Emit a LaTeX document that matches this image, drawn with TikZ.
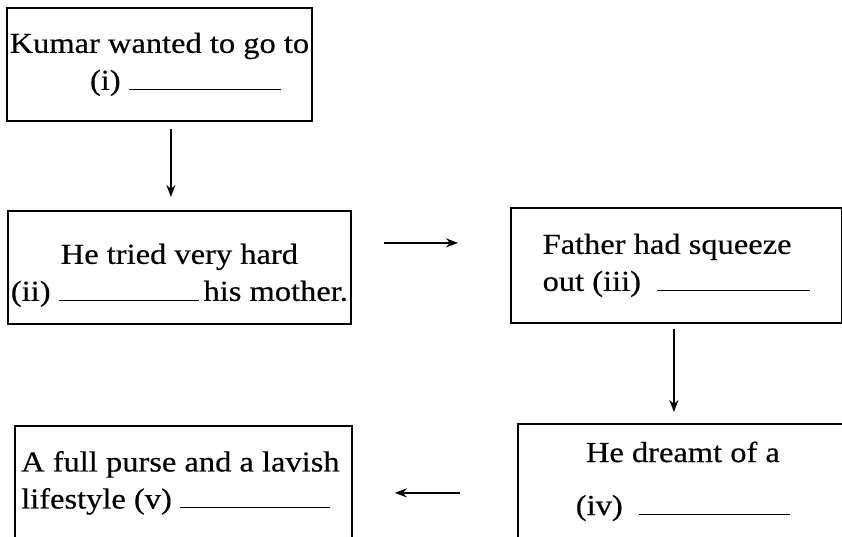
\documentclass[tikz,border=0pt]{standalone}
\usepackage{fontspec}
\setmainfont[FakeStretch=1.12, FakeBold=0.4]{Liberation Serif}
\usepackage{tikz}
\usetikzlibrary{arrows, arrows.meta}
\newcommand{\blank}[1]{\rule{#1}{1.3pt}}
\tikzset{
  FlowBox/.style = {draw = black, line width = 1.8pt, rectangle, anchor = north west, inner sep = 0pt,
                    font = \fontsize{29}{37}\selectfont},
  MidBox/.style = {FlowBox, align = center},
  LeftBox/.style = {FlowBox, align = left},
  Link/.style = {-{Stealth[length=12pt, width=9pt]}, line width = 1.7pt}
}
\begin{document}
\begin{tikzpicture}[x=1pt, y=-1pt]
    \useasboundingbox (0,0) rectangle (842,536);
    \node [MidBox, minimum width = 305pt, minimum height = 113pt] (kumar) at (6,7)
        {Kumar wanted to go to\\ \hspace*{52pt}(i) \blank{152pt}};
    \node [MidBox, minimum width = 343pt, minimum height = 113pt] (tried) at (7,210)
        {\rule{0pt}{36pt}He tried very hard\\(ii) \blank{140pt}\,his mother.};
    \node [LeftBox, minimum width = 331pt, minimum height = 115pt] (father) at (510,207)
        {Father had squeeze\\out (iii) \ \blank{153pt}};
    \node [MidBox, minimum width = 330pt, minimum height = 115pt] (dreamt) at (517,423)
        {He dreamt of a\\[16pt](iv) \ \blank{151pt}};
    \node [LeftBox, minimum width = 337pt, minimum height = 114pt] (purse) at (14,425)
        {A full purse and a lavish\hspace*{6pt}\\lifestyle (v) \blank{150pt}};
    % links between the boxes
    \draw [Link, shorten <= 7pt, shorten >= 13pt] ([xshift=11.5pt]kumar.south) -- ([xshift=11.5pt]kumar.south |- tried.north);
    \draw [Link, shorten <= 32pt, shorten >= 52pt] ([yshift=24.5pt]tried.east) -- ([yshift=24.5pt]tried.east -| father.west);
    \draw [Link, shorten <= 5pt, shorten >= 11pt] ([xshift=-2.5pt]father.south) -- ([xshift=-2.5pt]father.south |- dreamt.north);
    \draw [Link, shorten <= 57pt, shorten >= 42pt] ([yshift=-11.5pt]dreamt.west) -- ([yshift=-11.5pt]dreamt.west -| purse.east);
\end{tikzpicture}
\end{document}
